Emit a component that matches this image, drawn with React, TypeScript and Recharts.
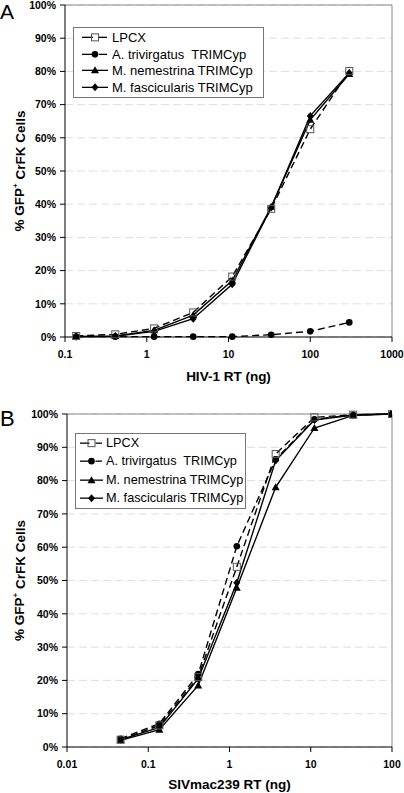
import React from "react";
import { LineChart, Line, XAxis, YAxis, CartesianGrid, ReferenceLine, Label } from "recharts";

const FONT = '"Liberation Sans", Arial, sans-serif';

// series names, in legend order
const seriesNames = ["LPCX", "A. trivirgatus  TRIMCyp", "M. nemestrina TRIMCyp", "M. fascicularis TRIMCyp"];

// panel A: HIV-1
const hivDose = [0.137, 0.412, 1.23, 3.7, 11.1, 33.3, 100, 300];
const hivLpcx = [0.3, 0.8, 2.6, 7.4, 18.2, 38.6, 62.6, 80.1];
const hivAtri = [0.1, 0.1, 0.1, 0.1, 0.1, 0.7, 1.7, 4.4];
const hivMnem = [0.2, 0.3, 2.0, 6.6, 17.0, 39.2, 65.4, 79.2];
const hivMfas = [0.1, 0.2, 1.7, 5.5, 15.9, 39.0, 66.6, 79.5];
const hivTicks = [0.1, 1, 10, 100, 1000];

// panel B: SIVmac239
const sivDose = [0.0457, 0.137, 0.412, 1.23, 3.7, 11.1, 33.3, 100];
const sivLpcx = [2.2, 6.5, 21.0, 54.1, 88.0, 99.0, 99.8, 100];
const sivAtri = [2.5, 7.0, 21.9, 60.3, 86.4, 98.4, 99.7, 100];
const sivMnem = [2.0, 5.2, 18.5, 47.8, 78.0, 95.8, 99.6, 100];
const sivMfas = [2.2, 5.9, 20.5, 49.3, 86.0, 98.2, 99.7, 100];
const sivTicks = [0.01, 0.1, 1, 10, 100];

const pctTicks = [0, 10, 20, 30, 40, 50, 60, 70, 80, 90, 100];

const buildRows = (dose: number[], a: number[], b: number[], c: number[], d: number[]) =>
  dose.map((x, i) => ({ dose: x, lpcx: a[i], atri: b[i], mnem: c[i], mfas: d[i] }));

const hivData = buildRows(hivDose, hivLpcx, hivAtri, hivMnem, hivMfas);
const sivData = buildRows(sivDose, sivLpcx, sivAtri, sivMnem, sivMfas);

// markers
const squareShape = (cx: number, cy: number, k: string) => (
  <rect key={k} x={cx - 3.5} y={cy - 3.5} width={7} height={7} fill="none" stroke="#555" strokeWidth={1} />
);
const circleShape = (cx: number, cy: number, k: string) => <circle key={k} cx={cx} cy={cy} r={3.3} fill="#000" />;
const triangleShape = (cx: number, cy: number, k: string) => (
  <polygon key={k} points={`${cx},${cy - 4} ${cx - 4},${cy + 3} ${cx + 4},${cy + 3}`} fill="#000" />
);
const diamondShape = (cx: number, cy: number, k: string) => (
  <polygon key={k} points={`${cx},${cy - 4} ${cx + 3.5},${cy} ${cx},${cy + 4} ${cx - 3.5},${cy}`} fill="#000" />
);

const dotFrom = (shape: typeof squareShape, name: string) => (p: any) =>
  p.cx == null || p.cy == null ? <g key={`${name}-${p.index}`} /> : shape(p.cx, p.cy, `${name}-${p.index}`);

const markers = [squareShape, circleShape, triangleShape, diamondShape];
const dashed = [true, true, false, false];

interface LegendBoxProps {
  width: number;
  rowH: number;
  fontSize: number;
  padLeft: number;
  iconW: number;
  gap: number;
  padTop: number;
}

const LegendBox = ({ width, rowH, fontSize, padLeft, iconW, gap, padTop }: LegendBoxProps) => (
  <div
    style={{
      boxSizing: "border-box",
      width,
      border: "1px solid #777",
      background: "#fff",
      fontFamily: FONT,
      fontSize,
      paddingTop: padTop,
      paddingLeft: padLeft,
      paddingBottom: 1,
    }}
  >
    {seriesNames.map((name, i) => {
      const mid = iconW / 2;
      return (
        <div key={name} style={{ display: "flex", alignItems: "center", height: rowH, whiteSpace: "pre" }}>
          <svg width={iconW} height={rowH} style={{ marginRight: gap, flex: "none" }}>
            {dashed[i] ? (
              <>
                <line x1={0} x2={mid - 2} y1={rowH / 2} y2={rowH / 2} stroke="#000" strokeWidth={1.3} />
                <line x1={mid + 4} x2={iconW - 1} y1={rowH / 2} y2={rowH / 2} stroke="#000" strokeWidth={1.3} />
              </>
            ) : (
              <line x1={0} x2={iconW} y1={rowH / 2} y2={rowH / 2} stroke="#000" strokeWidth={1.3} />
            )}
            {markers[i](mid, rowH / 2, `lg-${i}`)}
          </svg>
          <span>{name}</span>
        </div>
      );
    })}
  </div>
);

interface PanelProps {
  top: number;
  height: number;
  marginTop: number;
  yAxisWidth: number;
  xAxisHeight: number;
  data: any[];
  ticks: number[];
  xTitle: string;
  xTitleDy: number;
  legendLeft: number;
  legendTop: number;
  legend: LegendBoxProps;
}

const Panel = (p: PanelProps) => {
  const domain: [number, number] = [p.ticks[0], p.ticks[p.ticks.length - 1]];
  const tickStyle = { fontFamily: FONT, fontSize: 10.5, fontWeight: 700, fill: "#000" };
  return (
    <div style={{ position: "absolute", left: 0, top: p.top, width: 404, height: p.height }}>
      <LineChart width={404} height={p.height} data={p.data} margin={{ top: p.marginTop, right: 12, left: 0, bottom: 0 }}>
        <CartesianGrid vertical={false} stroke="#dedede" strokeDasharray="8 4" />
        <ReferenceLine y={100} stroke="#888" strokeWidth={1} />
        <ReferenceLine x={domain[1]} stroke="#888" strokeWidth={1} />
        <XAxis
          dataKey="dose"
          type="number"
          scale="log"
          domain={domain}
          ticks={p.ticks}
          allowDataOverflow
          height={p.xAxisHeight}
          tickSize={5}
          tickMargin={9}
          stroke="#000"
          tickLine={{ stroke: "#000" }}
          tick={tickStyle}
          tickFormatter={(v: number) => String(v)}
        >
          <Label
            content={({ viewBox }: any) => (
              <text
                x={viewBox.x + viewBox.width / 2}
                y={viewBox.y + p.xTitleDy}
                textAnchor="middle"
                fontFamily={FONT}
                fontSize={13.5}
                fontWeight={700}
                fill="#000"
              >
                {p.xTitle}
              </text>
            )}
          />
        </XAxis>
        <YAxis
          type="number"
          domain={[0, 100]}
          ticks={pctTicks}
          width={p.yAxisWidth}
          tickSize={5}
          tickMargin={4}
          stroke="#000"
          tickLine={{ stroke: "#000" }}
          tick={tickStyle}
          tickFormatter={(v: number) => `${v}%`}
        >
          <Label
            content={({ viewBox }: any) => {
              const cy = viewBox.y + viewBox.height / 2;
              return (
                <text
                  x={19.5}
                  y={cy}
                  transform={`rotate(-90 19.5 ${cy})`}
                  textAnchor="middle"
                  dominantBaseline="central"
                  fontFamily={FONT}
                  fontSize={13.5}
                  fontWeight={700}
                  fill="#000"
                >
                  % GFP
                  <tspan dy={-5} fontSize={8}>
                    +
                  </tspan>
                  <tspan dy={5}> CrFK Cells</tspan>
                </text>
              );
            }}
          />
        </YAxis>
        <Line dataKey="atri" stroke="#000" strokeWidth={1.4} strokeDasharray="7 4" dot={dotFrom(circleShape, "atri")} activeDot={false} isAnimationActive={false} />
        <Line dataKey="mnem" stroke="#000" strokeWidth={1.4} dot={dotFrom(triangleShape, "mnem")} activeDot={false} isAnimationActive={false} />
        <Line dataKey="mfas" stroke="#000" strokeWidth={1.4} dot={dotFrom(diamondShape, "mfas")} activeDot={false} isAnimationActive={false} />
        <Line dataKey="lpcx" stroke="#000" strokeWidth={1.4} strokeDasharray="7 4" dot={dotFrom(squareShape, "lpcx")} activeDot={false} isAnimationActive={false} />
      </LineChart>
      <div style={{ position: "absolute", left: p.legendLeft, top: p.legendTop }}>
        <LegendBox {...p.legend} />
      </div>
    </div>
  );
};

export default function App() {
  return (
    <div style={{ position: "absolute", left: 0, top: 0, width: 404, height: 793, background: "#fff", fontFamily: FONT }}>
      <Panel
        top={0}
        height={395}
        marginTop={5}
        yAxisWidth={65}
        xAxisHeight={58}
        data={hivData}
        ticks={hivTicks}
        xTitle="HIV-1 RT (ng)"
        xTitleDy={44}
        legendLeft={73}
        legendTop={27}
        legend={{ width: 191, rowH: 16.7, fontSize: 13, padLeft: 8, iconW: 26, gap: 4, padTop: 1 }}
      />
      <Panel
        top={400}
        height={393}
        marginTop={14}
        yAxisWidth={67}
        xAxisHeight={46}
        data={sivData}
        ticks={sivTicks}
        xTitle="SIVmac239 RT (ng)"
        xTitleDy={42}
        legendLeft={75}
        legendTop={33}
        legend={{ width: 171, rowH: 18.3, fontSize: 12.7, padLeft: 4, iconW: 23, gap: 3, padTop: 0 }}
      />
      <div style={{ position: "absolute", left: 0, top: 1, fontSize: 21, lineHeight: "21px", color: "#000" }}>A</div>
      <div style={{ position: "absolute", left: 0, top: 408, fontSize: 22, lineHeight: "22px", color: "#000" }}>B</div>
    </div>
  );
}
